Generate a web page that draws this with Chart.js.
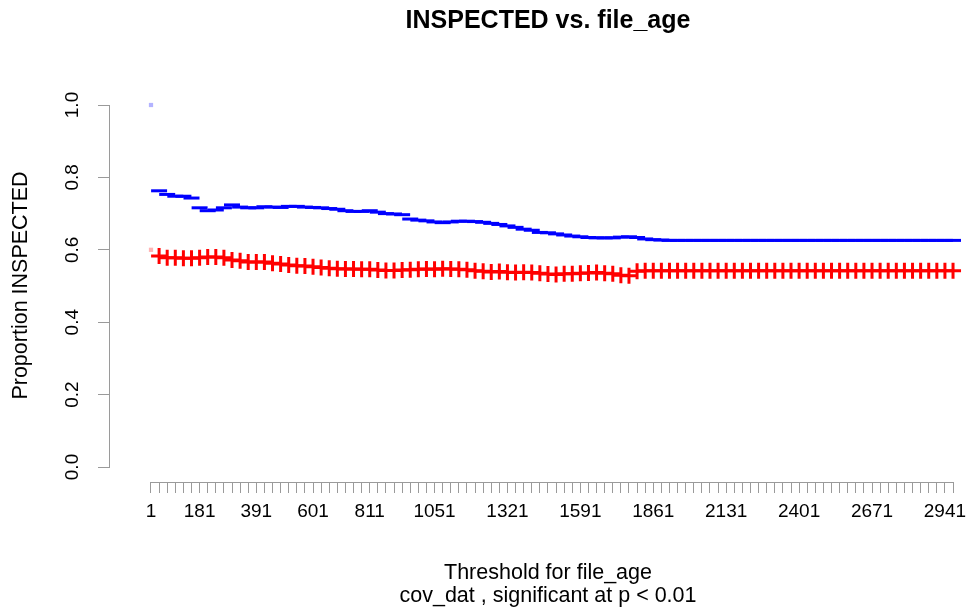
<!DOCTYPE html>
<html>
<head>
<meta charset="utf-8">
<script src="https://cdn.jsdelivr.net/npm/chart.js@4.4.1/dist/chart.umd.min.js"></script>
<style>
  html, body { margin: 0; padding: 0; background: #fff; overflow: hidden; }
</style>
</head>
<body>
<canvas id="chart" width="1000" height="609"></canvas>
<script>
// thresholds on the x axis (one tick per threshold)
const thresholds = [
    1, 31, 61, 91, 121, 151, 181, 211, 241, 271,
    301, 331, 361, 391, 421, 451, 481, 511, 541, 571,
    601, 631, 661, 691, 721, 751, 781, 811, 841, 871,
    901, 931, 961, 991, 1021, 1051, 1081, 1111, 1141, 1171,
    1201, 1231, 1261, 1291, 1321, 1351, 1381, 1411, 1441, 1471,
    1501, 1531, 1561, 1591, 1621, 1651, 1681, 1711, 1741, 1771,
    1801, 1831, 1861, 1891, 1921, 1951, 1981, 2011, 2041, 2071,
    2101, 2131, 2161, 2191, 2221, 2251, 2281, 2311, 2341, 2371,
    2401, 2431, 2461, 2491, 2521, 2551, 2581, 2611, 2641, 2671,
    2701, 2731, 2761, 2791, 2821, 2851, 2881, 2911, 2941, 2971
];
// labels R managed to print without overlap
const shownLabels = [1, 181, 391, 601, 811, 1051, 1321, 1591, 1861, 2131, 2401, 2671, 2941];
const yTicks = [0, 0.2, 0.4, 0.6, 0.8, 1.0];

// proportion INSPECTED above threshold (blue) / below threshold (red)
const aboveVals = [
    1.0, 0.763, 0.753, 0.748, 0.748, 0.743, 0.716, 0.708, 0.710, 0.716,
    0.724, 0.718, 0.716, 0.716, 0.719, 0.718, 0.717, 0.720, 0.720, 0.718,
    0.717, 0.716, 0.714, 0.712, 0.708, 0.706, 0.706, 0.708, 0.704, 0.700,
    0.699, 0.697, 0.685, 0.682, 0.680, 0.677, 0.675, 0.677, 0.679, 0.679,
    0.678, 0.676, 0.673, 0.670, 0.666, 0.662, 0.657, 0.654, 0.648, 0.647,
    0.644, 0.641, 0.638, 0.636, 0.634, 0.633, 0.633, 0.633, 0.635, 0.636,
    0.634, 0.630, 0.628, 0.627, 0.626, 0.626, 0.626, 0.626, 0.626, 0.626,
    0.626, 0.626, 0.626, 0.626, 0.626, 0.626, 0.626, 0.626, 0.626, 0.626,
    0.626, 0.626, 0.626, 0.626, 0.626, 0.626, 0.626, 0.626, 0.626, 0.626,
    0.626, 0.626, 0.626, 0.626, 0.626, 0.626, 0.626, 0.626, 0.626, 0.626
];
const belowVals = [
    0.6, 0.583, 0.578, 0.578, 0.577, 0.577, 0.578, 0.580, 0.580, 0.578,
    0.572, 0.570, 0.566, 0.566, 0.566, 0.563, 0.561, 0.558, 0.556, 0.555,
    0.553, 0.551, 0.549, 0.548, 0.547, 0.547, 0.546, 0.546, 0.544, 0.543,
    0.543, 0.544, 0.545, 0.546, 0.547, 0.546, 0.548, 0.547, 0.546, 0.545,
    0.542, 0.541, 0.539, 0.540, 0.538, 0.537, 0.538, 0.537, 0.535, 0.533,
    0.532, 0.534, 0.534, 0.535, 0.536, 0.537, 0.535, 0.534, 0.530, 0.528,
    0.541, 0.542, 0.542, 0.542, 0.542, 0.542, 0.542, 0.542, 0.542, 0.542,
    0.542, 0.542, 0.542, 0.542, 0.542, 0.542, 0.542, 0.542, 0.542, 0.542,
    0.542, 0.542, 0.542, 0.542, 0.542, 0.542, 0.542, 0.542, 0.542, 0.542,
    0.542, 0.542, 0.542, 0.542, 0.542, 0.542, 0.542, 0.542, 0.542, 0.542
];

const FONT = "'Liberation Sans', Arial, Helvetica, sans-serif";
const AXIS_GREY = '#9a9a9a';

// first threshold is drawn as a small faded square, the rest as R-style symbols
function seriesData(vals) {
    return vals.map((v, i) => ({ x: i, y: v }));
}
function makeSet(label, vals, color, faded, shape, lw) {
    return {
        label,
        data: seriesData(vals),
        showLine: false,
        clip: false,
        pointStyle: c => c.dataIndex === 0 ? 'rect' : shape,
        pointRadius: c => c.dataIndex === 0 ? 3 : 8,
        pointBackgroundColor: c => c.dataIndex === 0 ? faded : color,
        pointBorderColor: c => c.dataIndex === 0 ? faded : color,
        pointBorderWidth: c => c.dataIndex === 0 ? 0 : lw
    };
}

// R draws axis lines only between first and last tick
const rAxes = {
    id: 'rAxes',
    afterDraw(chart) {
        const { ctx, chartArea } = chart;
        const x = chart.scales.x, y = chart.scales.y;
        ctx.save();
        ctx.strokeStyle = AXIS_GREY;
        ctx.lineWidth = 1;
        ctx.beginPath();
        const by = Math.round(chartArea.bottom) + 0.5;
        ctx.moveTo(x.getPixelForValue(0), by);
        ctx.lineTo(x.getPixelForValue(thresholds.length - 1), by);
        const lx = Math.round(chartArea.left) - 0.5;
        ctx.moveTo(lx, y.getPixelForValue(yTicks[0]));
        ctx.lineTo(lx, y.getPixelForValue(yTicks[yTicks.length - 1]));
        ctx.stroke();
        ctx.restore();
    }
};

const cfg = {
    type: 'scatter',
    data: {
        datasets: [
            makeSet('above', aboveVals, '#0000ff', '#b3b3ff', 'line', 3),
            makeSet('below', belowVals, '#ff0000', '#ffb3b3', 'cross', 3)
        ]
    },
    options: {
        responsive: false,
        animation: false,
        events: [],
        layout: { padding: { left: 0, right: 14, top: 0, bottom: 0 } },
        plugins: {
            legend: { display: false },
            tooltip: { enabled: false },
            title: {
                display: true,
                fullSize: false,
                text: 'INSPECTED vs. file_age',
                color: '#000',
                font: { family: FONT, size: 25, weight: 'bold', lineHeight: 1.2 },
                padding: { top: 6, bottom: 53 }
            }
        },
        scales: {
            x: {
                type: 'linear',
                min: -5.06,
                max: 103.07,
                afterBuildTicks: s => { s.ticks = thresholds.map((t, i) => ({ value: i })); },
                afterFit: s => { s.height = 127; },
                ticks: {
                    autoSkip: false,
                    maxRotation: 0,
                    minRotation: 0,
                    padding: 7,
                    color: '#000',
                    font: { family: FONT, size: 19 },
                    callback: v => shownLabels.includes(thresholds[v]) ? String(thresholds[v]) : ''
                },
                grid: { drawOnChartArea: false, drawTicks: true, tickLength: 11, color: AXIS_GREY },
                border: { display: false },
                title: {
                    display: true,
                    text: ['Threshold for file_age', 'cov_dat , significant at p < 0.01'],
                    color: '#000',
                    font: { family: FONT, size: 21.5, lineHeight: '23px' },
                    padding: { top: 0, bottom: 1.5 }
                }
            },
            y: {
                type: 'linear',
                min: -0.0414,
                max: 1.0442,
                afterBuildTicks: s => { s.ticks = yTicks.map(v => ({ value: v })); },
                afterFit: s => { s.width = 110; },
                ticks: {
                    minRotation: 90,
                    maxRotation: 90,
                    crossAlign: 'center',
                    padding: 12,
                    color: '#000',
                    font: { family: FONT, size: 19 },
                    callback: v => v.toFixed(1)
                },
                grid: { drawOnChartArea: false, drawTicks: true, tickLength: 12, color: AXIS_GREY },
                border: { display: false },
                title: {
                    display: true,
                    text: 'Proportion INSPECTED',
                    color: '#000',
                    font: { family: FONT, size: 21.5, lineHeight: '23px' },
                    padding: { top: 9.5, bottom: 0 }
                }
            }
        }
    },
    plugins: [rAxes]
};

new Chart(document.getElementById('chart'), cfg);
</script>
</body>
</html>
